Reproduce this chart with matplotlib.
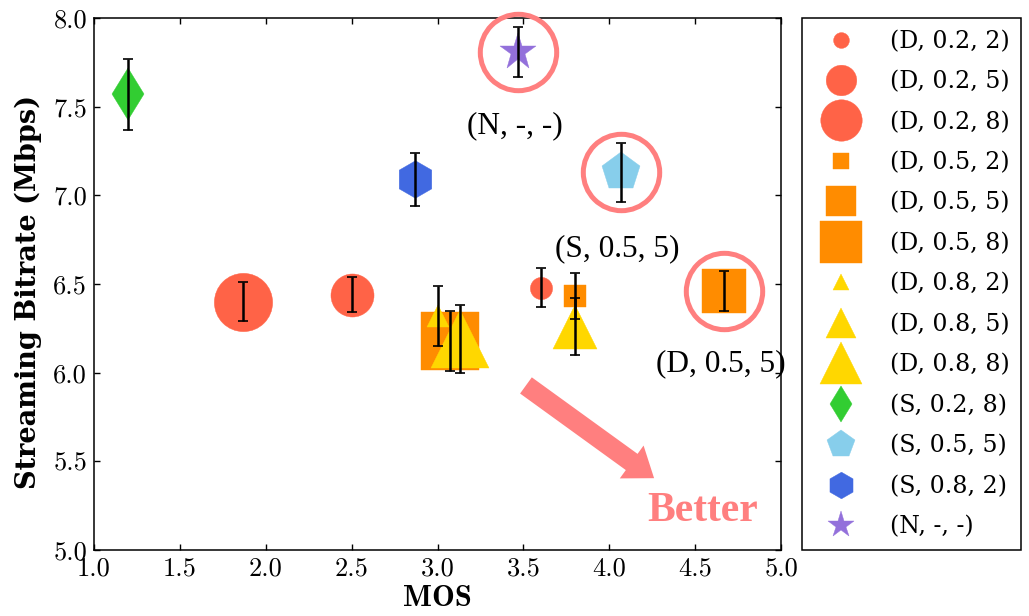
import matplotlib
matplotlib.use("Agg")
import matplotlib.pyplot as plt

# ---------------- data ----------------
labels = ['(D, 0.2, 2)', '(D, 0.2, 5)', '(D, 0.2, 8)',
          '(D, 0.5, 2)', '(D, 0.5, 5)', '(D, 0.5, 8)',
          '(D, 0.8, 2)', '(D, 0.8, 5)', '(D, 0.8, 8)',
          '(S, 0.2, 8)', '(S, 0.5, 5)', '(S, 0.8, 2)', '(N, -, -)']
mos = [3.60, 2.50, 1.87, 3.80, 4.67, 3.07, 3.00, 3.80, 3.13, 1.20, 4.07, 2.87, 3.47]
bitrate = [6.48, 6.44, 6.40, 6.43, 6.46, 6.18, 6.32, 6.26, 6.19, 7.57, 7.13, 7.09, 7.81]
bitrate_err = [0.11, 0.10, 0.11, 0.13, 0.115, 0.17, 0.17, 0.16, 0.19, 0.20, 0.165, 0.15, 0.14]
highlighted = ['(N, -, -)', '(S, 0.5, 5)', '(D, 0.5, 5)']

x_ticks = [1.0, 1.5, 2.0, 2.5, 3.0, 3.5, 4.0, 4.5, 5.0]
y_ticks = [5.0, 5.5, 6.0, 6.5, 7.0, 7.5, 8.0]

# ---------------- styles ----------------
markers = ['o', 'o', 'o', 's', 's', 's', '^', '^', '^', 'd', 'p', 'h', '*']
colors = ['#FF6347'] * 3 + ['#FF8C00'] * 3 + ['#FFD700'] * 3 + \
         ['#32CD32', '#87CEEB', '#4169E1', '#9370DB']
msizes = [16, 31, 42, 16, 31, 42, 16, 31, 42, 26.5, 29, 27, 28]
ring_color = '#FF7F7F'

fig = plt.figure(figsize=(10.29, 6.16), dpi=100)
ax = fig.add_axes([94 / 1029, 1 - 550 / 616, (781 - 94) / 1029, (550 - 18) / 616])

for x, y, m, c, s, lab in zip(mos, bitrate, markers, colors, msizes, labels):
    ax.plot([x], [y], linestyle='none', marker=m, markersize=s, color=c,
            markeredgecolor=c, markeredgewidth=0.3, label=lab, zorder=2)

ax.errorbar(mos, bitrate, yerr=bitrate_err, fmt='none', ecolor='black',
            elinewidth=1.8, capsize=3.3, capthick=1.2, zorder=3)

# highlight rings around selected configurations
for lab in highlighted:
    i = labels.index(lab)
    ax.plot([mos[i]], [bitrate[i]], linestyle='none', marker='o', markersize=55,
            markerfacecolor='none', markeredgecolor=ring_color,
            markeredgewidth=3.6, zorder=4, clip_on=False)

ann_font = dict(family='Liberation Serif', fontsize=22.5, color='black')
ax.text(3.451, 7.392, '(N, -, -)', ha='center', va='center', **ann_font)
ax.text(4.045, 6.700, '(S, 0.5, 5)', ha='center', va='center', **ann_font)
ax.text(4.651, 6.052, '(D, 0.5, 5)', ha='center', va='center', **ann_font)

ax.annotate('', xy=(4.261, 5.405), xytext=(3.515, 5.928),
            arrowprops=dict(arrowstyle='simple,head_length=19.9,head_width=29.2,tail_width=14.4',
                            color=ring_color, mutation_scale=1, shrinkA=0, shrinkB=0,
                            linewidth=0))
ax.text(4.546, 5.218, 'Better', ha='center', va='center', family='Liberation Serif',
        fontweight='bold', fontsize=30, color=ring_color)

ax.set_xlim(1.0, 5.0)
ax.set_ylim(5.0, 8.0)
ax.set_xticks(x_ticks)
ax.set_yticks(y_ticks)
ax.set_xticklabels([f'{v:.1f}' for v in x_ticks], family='cmr10', fontsize=19)
ax.set_yticklabels([f'{v:.1f}' for v in y_ticks], family='cmr10', fontsize=19)
ax.tick_params(direction='in', top=True, right=True, length=4.3, width=1.0, pad=5)
for sp in ax.spines.values():
    sp.set_linewidth(1.1)

ax.set_xlabel('MOS', family='cmb10', fontsize=22, labelpad=3)
ax.set_ylabel('Streaming Bitrate (Mbps)', family='DejaVu Serif', fontweight='bold',
              fontsize=19.5, labelpad=5)
ax.yaxis.set_label_coords(-0.076, 0.485)

handles, labs = ax.get_legend_handles_labels()
leg = fig.legend(handles[:len(labels)], labs[:len(labels)], loc='upper left',
                 bbox_to_anchor=(802 / 1029, 1 - 18 / 616), borderaxespad=0,
                 prop=dict(family='DejaVu Serif', size=17), numpoints=1,
                 markerscale=0.71, fancybox=False, frameon=True, framealpha=1,
                 edgecolor='black', labelspacing=0.74, borderpad=0.5,
                 handlelength=2.29, handletextpad=0.93)
leg.get_frame().set_linewidth(1.1)

fig.savefig('out.png', dpi=100)
